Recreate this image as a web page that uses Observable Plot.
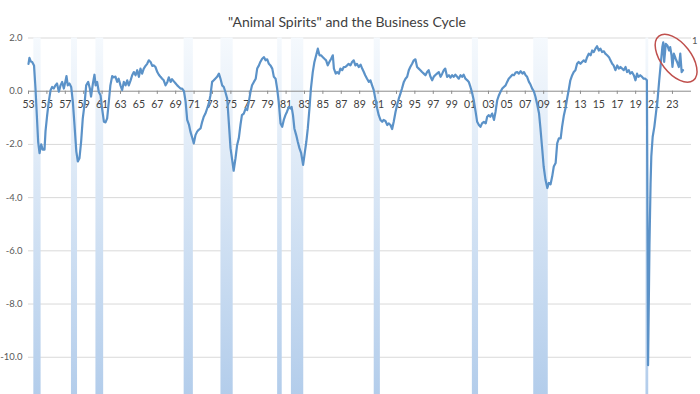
<!DOCTYPE html>
<html>
<head>
<meta charset="utf-8">
<script src="https://cdn.jsdelivr.net/npm/d3@7"></script>
<script src="https://cdn.jsdelivr.net/npm/@observablehq/plot@0.6"></script>
<style>
  html, body { margin: 0; padding: 0; background: #fff; }
  #chart svg { display: block; }
</style>
</head>
<body>
<div id="chart"></div>
<script>
// ---- Data ----
const years = [
  1953.0,1953.1,1953.25,1953.4,1953.6,1953.76,1953.94,1954.05,1954.2,1954.38,1954.55,1954.74,1954.85,
  1955.03,1955.2,1955.4,1955.57,1955.75,1955.93,1956.1,1956.3,1956.48,1956.66,1956.84,1957.0,1957.13,
  1957.27,1957.45,1957.64,1957.82,1958.0,1958.2,1958.36,1958.54,1958.72,1958.9,1959.08,1959.27,1959.49,
  1959.67,1959.8,1960.0,1960.17,1960.3,1960.46,1960.64,1960.83,1961.0,1961.2,1961.37,1961.55,1961.73,
  1961.9,1962.1,1962.27,1962.45,1962.64,1962.8,1963.0,1963.18,1963.36,1963.55,1963.73,1963.9,1964.1,
  1964.27,1964.45,1964.64,1964.82,1965.0,1965.17,1965.35,1965.53,1965.72,1965.9,1966.08,1966.27,1966.45,
  1966.63,1966.8,1967.0,1967.17,1967.35,1967.53,1967.7,1967.9,1968.1,1968.25,1968.45,1968.6,1968.8,
  1969.0,1969.17,1969.35,1969.53,1969.7,1969.9,1970.08,1970.25,1970.45,1970.6,1970.8,1970.97,1971.15,
  1971.33,1971.5,1971.7,1971.88,1972.05,1972.23,1972.42,1972.6,1972.78,1972.96,1973.14,1973.3,1973.5,
  1973.7,1973.87,1974.05,1974.23,1974.4,1974.6,1974.77,1974.96,1975.14,1975.3,1975.5,1975.68,1975.86,
  1976.04,1976.2,1976.4,1976.6,1976.77,1976.95,1977.13,1977.3,1977.5,1977.7,1977.86,1978.05,1978.2,
  1978.4,1978.6,1978.77,1978.95,1979.13,1979.3,1979.5,1979.67,1979.86,1980.03,1980.2,1980.4,1980.58,
  1980.75,1980.93,1981.1,1981.3,1981.48,1981.6,1981.75,1981.9,1982.1,1982.27,1982.45,1982.64,1982.85,
  1983.05,1983.2,1983.36,1983.54,1983.7,1983.9,1984.08,1984.27,1984.45,1984.63,1984.8,1985.0,1985.17,
  1985.35,1985.53,1985.7,1985.9,1986.08,1986.2,1986.4,1986.55,1986.74,1986.9,1987.1,1987.27,1987.45,
  1987.63,1987.8,1988.0,1988.17,1988.35,1988.53,1988.7,1988.9,1989.1,1989.27,1989.45,1989.6,1989.8,
  1990.0,1990.17,1990.35,1990.53,1990.7,1990.9,1991.07,1991.26,1991.45,1991.6,1991.8,1992.0,1992.15,
  1992.35,1992.53,1992.7,1992.9,1993.07,1993.25,1993.43,1993.6,1993.8,1993.98,1994.16,1994.34,1994.5,
  1994.7,1994.88,1995.06,1995.24,1995.42,1995.6,1995.78,1995.97,1996.15,1996.33,1996.5,1996.7,1996.88,
  1997.05,1997.2,1997.4,1997.6,1997.8,1997.97,1998.14,1998.3,1998.5,1998.7,1998.87,1999.05,1999.23,
  1999.4,1999.6,1999.77,1999.96,2000.13,2000.3,2000.5,2000.7,2000.86,2001.04,2001.2,2001.4,2001.6,
  2001.77,2001.96,2002.13,2002.3,2002.5,2002.7,2002.86,2003.04,2003.2,2003.4,2003.6,2003.77,2003.95,
  2004.14,2004.3,2004.5,2004.67,2004.86,2005.03,2005.2,2005.4,2005.6,2005.77,2005.95,2006.13,2006.3,
  2006.5,2006.7,2006.86,2007.04,2007.2,2007.4,2007.57,2007.75,2007.93,2008.1,2008.3,2008.5,2008.65,
  2008.85,2009.0,2009.2,2009.4,2009.56,2009.75,2009.93,2010.1,2010.3,2010.47,2010.65,2010.85,2011.0,
  2011.2,2011.4,2011.55,2011.75,2011.9,2012.1,2012.27,2012.45,2012.63,2012.8,2013.0,2013.17,2013.36,
  2013.55,2013.72,2013.9,2014.1,2014.27,2014.45,2014.63,2014.8,2015.0,2015.17,2015.35,2015.55,2015.7,
  2015.9,2016.1,2016.26,2016.45,2016.6,2016.8,2017.0,2017.17,2017.35,2017.53,2017.7,2017.9,2018.07,
  2018.25,2018.4,2018.6,2018.8,2018.98,2019.15,2019.3,2019.5,2019.7,2019.87,2020.05,2020.22,2020.35,
  2020.5,2020.62,2020.7,2020.85,2021.03,2021.2,2021.4,2021.56,2021.75,2021.9,2022.0,2022.1,2022.27,
  2022.45,2022.63,2022.75,2022.9,2023.0,2023.15,2023.35,2023.5,2023.7,2023.85,2024.0,2024.15
];
const values = [
  1.03,1.25,1.12,1.1,0.97,0.1,-1.15,-1.9,-2.33,-2.0,-2.2,-2.2,-1.5,
  -0.9,-0.4,0.04,0.16,0.1,0.22,0.29,-0.02,0.22,0.35,0.1,0.35,0.57,
  0.22,0.29,0.16,-0.4,-1.27,-2.27,-2.64,-2.52,-1.9,-1.02,-0.52,0.22,0.35,
  0.1,-0.2,0.29,0.62,0.22,0.35,-0.03,-0.15,-0.65,-1.15,-1.17,-1.02,-0.4,
  0.22,0.57,0.52,0.55,0.35,0.47,0.22,0.04,0.35,0.22,0.41,0.22,0.41,
  0.6,0.72,0.6,0.79,0.54,0.85,0.66,0.85,0.95,1.03,1.16,1.1,0.95,
  0.97,0.91,0.72,0.62,0.54,0.47,0.41,0.22,0.35,0.52,0.35,0.45,0.37,
  0.29,0.22,0.16,0.1,0.1,0.0,-0.4,-1.08,-1.27,-1.52,-1.75,-1.96,-1.65,
  -1.52,-1.45,-1.4,-1.15,-0.96,-0.84,-0.65,-0.46,-0.15,0.35,0.41,0.47,0.54,
  0.66,0.47,0.22,0.16,-0.03,-0.28,-1.15,-2.14,-2.58,-2.99,-2.52,-2.02,-1.77,
  -1.27,-0.9,-0.84,-0.65,-0.71,-0.4,-0.03,0.22,0.35,0.47,0.85,0.97,1.1,
  1.22,1.28,1.16,1.2,1.03,0.97,0.85,0.54,0.47,0.1,-0.4,-1.21,-1.34,
  -1.08,-0.9,-0.77,-0.59,-0.65,-0.59,-0.9,-1.4,-1.65,-1.9,-2.14,-2.33,-2.77,
  -2.27,-1.9,-1.4,-0.65,0.1,0.72,1.1,1.35,1.6,1.35,1.35,1.28,1.22,
  1.16,0.97,1.1,1.22,1.35,0.85,0.66,0.72,0.66,0.85,0.79,0.91,0.91,
  0.97,1.03,0.97,1.1,1.16,0.97,1.03,0.91,1.0,0.85,0.72,0.6,0.47,
  0.35,0.41,0.22,0.04,-0.28,-0.65,-0.9,-1.08,-1.15,-1.08,-1.12,-1.27,-1.21,
  -1.27,-1.42,-1.15,-0.77,-0.52,-0.28,-0.09,0.1,0.35,0.47,0.54,0.79,0.91,
  1.03,1.16,1.2,0.91,0.85,0.79,0.72,0.66,0.6,0.72,0.79,0.54,0.41,
  0.54,0.6,0.66,0.72,0.54,0.66,0.79,0.85,0.54,0.6,0.51,0.6,0.54,
  0.62,0.54,0.47,0.6,0.54,0.62,0.47,0.41,0.35,0.16,-0.03,-0.34,-0.77,
  -1.15,-1.27,-1.34,-1.21,-1.15,-1.21,-0.96,-0.9,-0.96,-0.84,-1.08,-0.77,-0.34,
  -0.15,-0.03,0.1,0.16,0.22,0.35,0.47,0.54,0.62,0.6,0.7,0.72,0.66,
  0.75,0.66,0.72,0.6,0.54,0.35,0.25,0.1,0.0,-0.2,-0.5,-0.84,-1.4,
  -2.2,-2.83,-3.33,-3.64,-3.45,-3.5,-3.2,-2.83,-2.7,-1.96,-1.77,-1.77,-1.34,
  -0.9,-0.59,-0.28,0.1,0.41,0.6,0.72,0.79,1.03,1.1,1.03,1.1,1.16,
  1.1,1.28,1.41,1.35,1.53,1.47,1.6,1.69,1.53,1.6,1.47,1.5,1.41,
  1.35,1.28,1.16,1.03,0.97,0.79,0.97,0.85,0.91,0.85,0.79,0.91,0.72,
  0.79,0.66,0.72,0.6,0.41,0.66,0.54,0.6,0.54,0.47,0.47,0.41,-10.3,
  -5.8,-3.5,-2.46,-1.71,-1.34,-0.84,-0.25,0.41,1.1,1.66,1.84,1.1,1.78,
  1.72,1.53,1.66,1.35,0.91,1.41,1.22,1.1,0.91,1.41,0.72,0.79
];
// NBER recessions (start, end as decimal years)
const recessionStart = [1953.58,1957.67,1960.33,1969.92,1973.92,1980.08,1981.58,1990.58,2001.25,2007.92,2020.12];
const recessionEnd   = [1954.37,1958.33,1961.17,1970.92,1975.25,1980.58,1982.92,1991.25,2001.92,2009.50,2020.42];
const xTickYears  = [1953,1955,1957,1959,1961,1963,1965,1967,1969,1971,1973,1975,1977,1979,1981,1983,1985,1987,1989,1991,1993,1995,1997,1999,2001,2003,2005,2007,2009,2011,2013,2015,2017,2019,2021,2023];
const xTickLabels = ["53","55","57","59","61","63","65","67","69","71","73","75","77","79","81","83","85","87","89","91","93","95","97","99","01","03","05","07","09","11","13","15","17","19","21","23"];
const yTicks = [2, 0, -2, -4, -6, -8, -10];
const title = "\"Animal Spirits\" and the Business Cycle";

// ---- Build ----
const series = years.map((x, i) => ({x, y: values[i]}));
const recessions = recessionStart.map((s, i) => ({start: s, end: recessionEnd[i]}));
const xTicks = xTickYears.map((yr, i) => ({yr, label: xTickLabels[i]}));
const Y_MIN = -11.4, Y_MAX = 2.0;
const NS = "http://www.w3.org/2000/svg";

function gradientDefs() {
  const defs = document.createElementNS(NS, "defs");
  const g = document.createElementNS(NS, "linearGradient");
  g.setAttribute("id", "recGrad");
  g.setAttribute("x1", "0"); g.setAttribute("y1", "0");
  g.setAttribute("x2", "0"); g.setAttribute("y2", "1");
  [["0%", "#f5f9fd"], ["100%", "#b3cdeb"]].forEach(([o, c]) => {
    const s = document.createElementNS(NS, "stop");
    s.setAttribute("offset", o); s.setAttribute("stop-color", c);
    g.appendChild(s);
  });
  defs.appendChild(g);
  return defs;
}

function ellipseMark(index, scales) {
  const cx = scales.x(2023.45), cy = scales.y(1.22);
  const e = document.createElementNS(NS, "ellipse");
  e.setAttribute("cx", cx); e.setAttribute("cy", cy);
  e.setAttribute("rx", 28); e.setAttribute("ry", 15);
  e.setAttribute("transform", `rotate(52 ${cx} ${cy})`);
  e.setAttribute("fill", "none");
  e.setAttribute("stroke", "#c0504d");
  e.setAttribute("stroke-width", 1.5);
  return e;
}

const chart = Plot.plot({
  width: 700,
  height: 394,
  marginTop: 37.5,
  marginBottom: 0,
  marginLeft: 28,
  marginRight: 9,
  x: {domain: [1953, 2025.07], axis: null},
  y: {domain: [Y_MIN, Y_MAX], axis: null},
  style: {fontFamily: "Lato, 'Open Sans', sans-serif", background: "#fff", overflow: "visible"},
  marks: [
    gradientDefs,
    Plot.ruleY(yTicks.filter(d => d !== 0), {stroke: "#d9d9d9", strokeWidth: 1}),
    Plot.rect(recessions, {x1: "start", x2: "end", y1: Y_MIN, y2: Y_MAX, fill: "url(#recGrad)"}),
    Plot.ruleY([0], {stroke: "#8c8c8c", strokeWidth: 1}),
    Plot.ruleX(xTicks, {x: "yr", y1: 0, y2: -0.12, stroke: "#8c8c8c"}),
    Plot.text(xTicks, {x: "yr", y: 0, text: "label", dy: 13, fontSize: 10.5, fill: "#404040"}),
    Plot.text(yTicks, {x: 1953, y: d => d, text: d => d.toFixed(1), textAnchor: "end", dx: -6, fontSize: 9.5, fill: "#595959"}),
    Plot.line(series, {x: "x", y: "y", stroke: "#5b92c8", strokeWidth: 2.2, strokeLinejoin: "round"}),
    ellipseMark,
    Plot.text([title], {frameAnchor: "top", dx: -13, dy: -21, fontSize: 14, fill: "#404040"}),
    Plot.text(["1"], {frameAnchor: "top-right", dx: 6, dy: -1, fontSize: 9.5, fill: "#595959"})
  ]
});
document.getElementById("chart").appendChild(chart);
</script>
</body>
</html>
